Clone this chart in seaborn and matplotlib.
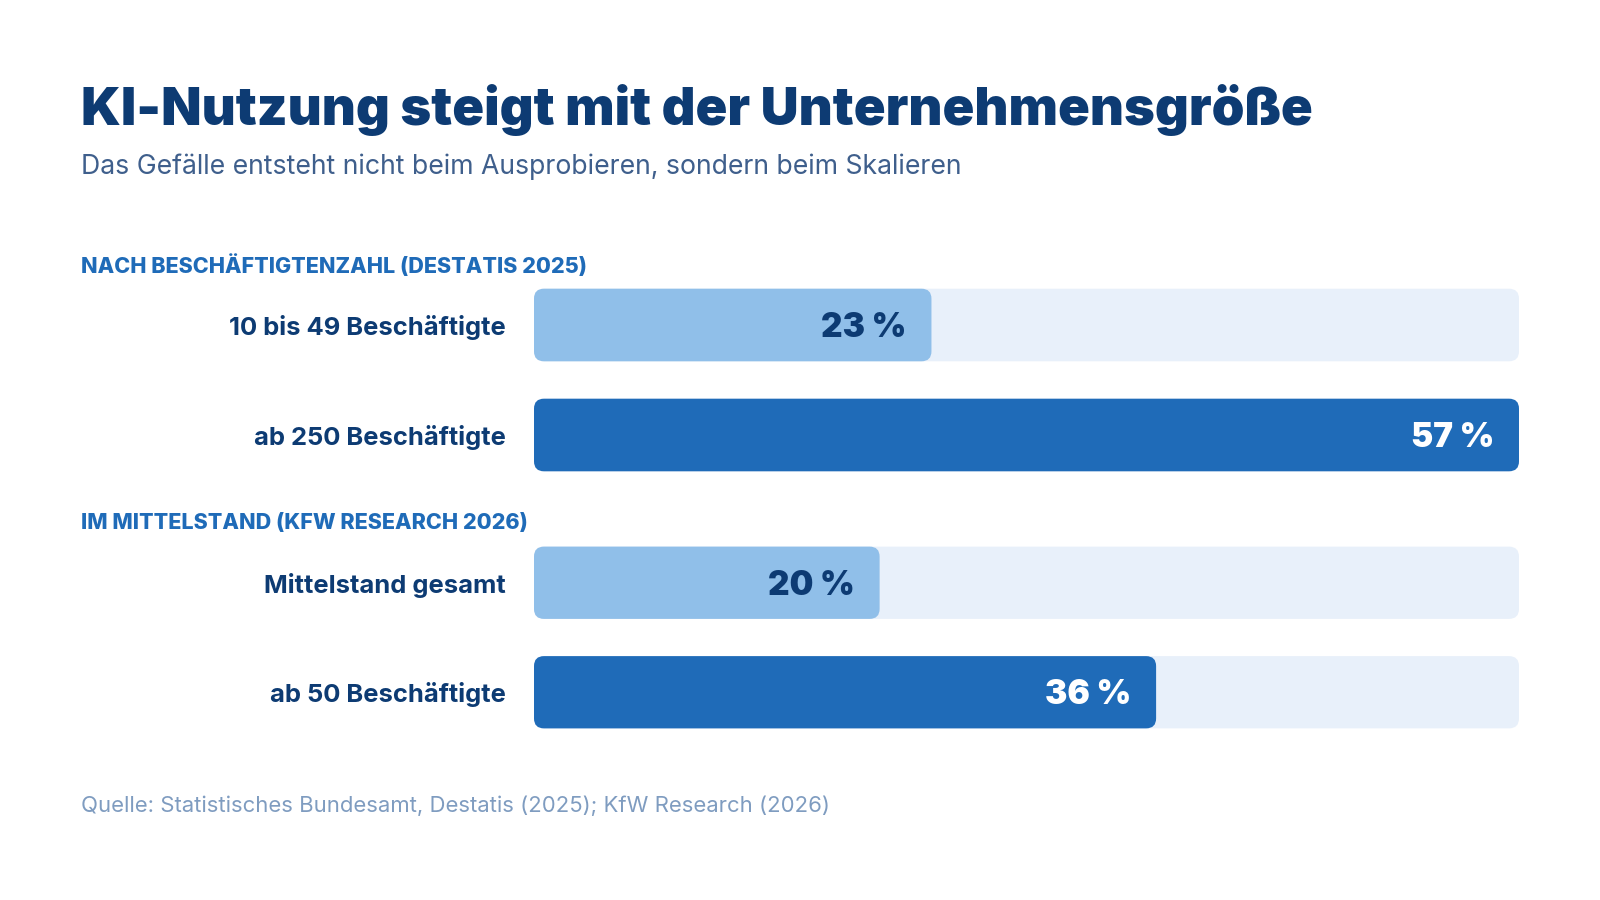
import matplotlib
matplotlib.use("Agg")
import matplotlib.pyplot as plt
from matplotlib.patches import FancyBboxPatch
import seaborn as sns
import pandas as pd

# chart data
section_titles = ["NACH BESCHÄFTIGTENZAHL (DESTATIS 2025)",
                  "IM MITTELSTAND (KFW RESEARCH 2026)"]
row_labels = ["10 bis 49 Beschäftigte", "ab 250 Beschäftigte",
              "Mittelstand gesamt", "ab 50 Beschäftigte"]
row_values = [23, 57, 20, 36]
row_section = [0, 0, 1, 1]
row_shade = ["light", "dark", "light", "dark"]

title = "KI-Nutzung steigt mit der Unternehmensgröße"
subtitle = "Das Gefälle entsteht nicht beim Ausprobieren, sondern beim Skalieren"
source = "Quelle: Statistisches Bundesamt, Destatis (2025); KfW Research (2026)"

NAVY = "#0d3b73"
BLUE = "#1f6bb8"
LIGHT = "#90bfe9"
TRACK = "#e8f0fa"

sns.set_theme(style="white")
plt.rcParams["font.family"] = ["Inter", "DejaVu Sans"]

df = pd.DataFrame({"label": row_labels, "value": row_values,
                   "section": row_section, "shade": row_shade})
track_max = max(row_values)

fig = plt.figure(figsize=(16, 9), dpi=100)
fig.patch.set_facecolor("white")

fig.text(81 / 1600, 1 - 110 / 900, title, fontsize=37.8, fontweight="black",
         color=NAVY, va="center", ha="left")
fig.text(81 / 1600, 1 - 167 / 900, subtitle, fontsize=19.2, color="#3f5f8c",
         va="center", ha="left")
fig.text(81 / 1600, 1 - 806 / 900, source, fontsize=15.9, color="#7f9cc0",
         va="center", ha="left")

# axes boxes in pixels: (top, bottom) for each section
boxes = [(270, 490), (528, 747)]
header_y = [266, 523]
left, right = 534, 1519

axes = []
for s, (top, bottom) in enumerate(boxes):
    ax = fig.add_axes([left / 1600, 1 - bottom / 900, (right - left) / 1600,
                       (bottom - top) / 900])
    sub = df[df["section"] == s].reset_index(drop=True)
    sub["track"] = track_max
    sns.barplot(data=sub, y="label", x="track", color=TRACK, width=0.66,
                orient="h", ax=ax, saturation=1)
    sns.barplot(data=sub, y="label", x="value", hue="shade",
                palette={"light": LIGHT, "dark": BLUE}, width=0.66,
                orient="h", ax=ax, saturation=1, legend=False, dodge=False)
    ax.set_xlim(0, track_max)
    ax.set_ylim(1.5, -0.5)
    ax.set_xlabel("")
    ax.set_ylabel("")
    ax.set_xticks([])
    ax.tick_params(axis="y", length=0, pad=20)
    for t in ax.get_yticklabels():
        t.set_fontsize(18.4)
        t.set_fontweight("bold")
        t.set_color(NAVY)
    for sp in ax.spines.values():
        sp.set_visible(False)
    for i, row in sub.iterrows():
        c = NAVY if row["shade"] == "light" else "white"
        ax.annotate(f"{row['value']} %", xy=(row["value"], i),
                    xytext=(-18, -2), textcoords="offset points",
                    ha="right", va="center", fontsize=24, fontweight="black",
                    color=c)
    fig.text(81 / 1600, 1 - header_y[s] / 900, section_titles[s],
             fontsize=15.5, fontweight="heavy", color=BLUE,
             va="center", ha="left")
    axes.append(ax)

# round the bar corners
fig.canvas.draw()
for ax in axes:
    x_px = ax.transData.transform((1, 0))[0] - ax.transData.transform((0, 0))[0]
    y_px = abs(ax.transData.transform((0, 1))[1] - ax.transData.transform((0, 0))[1])
    r = 10 / x_px
    for p in list(ax.patches):
        x0, y0 = p.get_x(), p.get_y()
        w, h = p.get_width(), p.get_height()
        if w <= 0:
            continue
        fb = FancyBboxPatch((x0, y0), w, h,
                            boxstyle=f"round,pad=0,rounding_size={r}",
                            mutation_aspect=x_px / y_px,
                            facecolor=p.get_facecolor(), edgecolor="none",
                            zorder=p.get_zorder())
        p.remove()
        ax.add_patch(fb)
    # keep value labels on top
    for t in ax.texts:
        t.set_zorder(5)

fig.savefig("out.png", dpi=100, facecolor="white")
